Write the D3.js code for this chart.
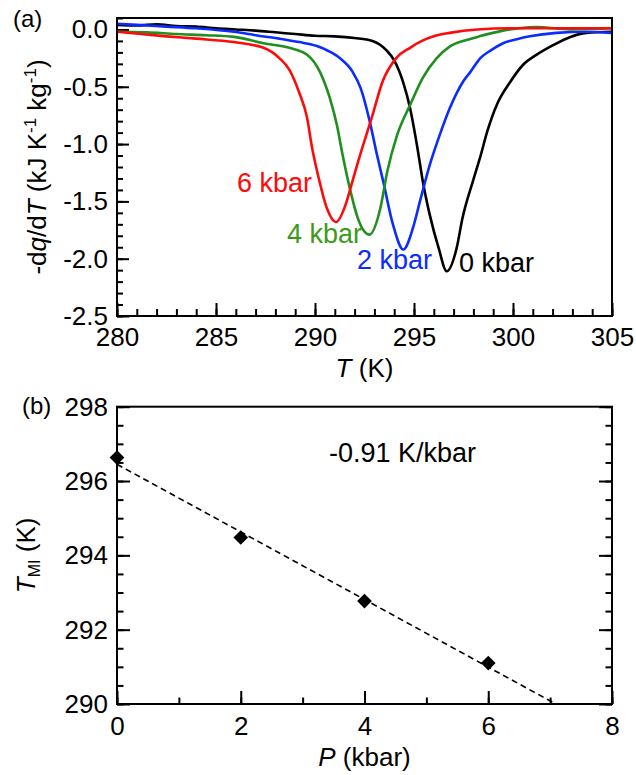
<!DOCTYPE html>
<html>
<head>
<meta charset="utf-8">
<script src="https://cdn.jsdelivr.net/npm/d3@7"></script>
<style>
  body { margin: 0; background: #fff; }
  text { font-family: "Liberation Sans", Arial, sans-serif; fill: #000; }
</style>
</head>
<body>
<svg id="chart" width="636" height="775"></svg>
<script>
// ---- panel (a): -dq/dT curves ----
const T0 = [280, 281, 282, 283, 284, 285, 286, 287, 288, 289, 290, 291, 292, 292.9, 293.6, 294.0, 294.45, 294.8, 295.15, 295.45, 295.8, 296.25, 296.65, 297.15, 297.45, 298.0, 298.35, 298.7, 299.2, 299.85, 300.5, 301.2, 302.05, 302.9, 303.7, 305];
const q0 = [0.04, 0.035, 0.045, 0.03, 0.025, 0.01, 0.0, -0.01, -0.025, -0.04, -0.055, -0.06, -0.075, -0.10, -0.18, -0.27, -0.46, -0.685, -1.01, -1.33, -1.62, -1.91, -2.11, -1.91, -1.645, -1.31, -1.11, -0.89, -0.65, -0.46, -0.31, -0.22, -0.135, -0.065, -0.03, -0.02];

const T2 = [280, 281, 282.5, 284, 285.9, 287, 288.2, 289.2, 290.1, 290.7, 291.25, 291.9, 292.3, 292.8, 293.1, 293.45, 293.95, 294.46, 294.95, 295.3, 295.8, 296.3, 296.8, 297.5, 297.85, 298.35, 298.9, 299.5, 300.2, 300.85, 302.2, 303.7, 305];
const q2 = [0.05, 0.04, 0.025, 0.01, -0.02, -0.05, -0.08, -0.11, -0.145, -0.19, -0.25, -0.37, -0.51, -0.83, -1.07, -1.33, -1.71, -1.92, -1.73, -1.50, -1.18, -0.92, -0.69, -0.45, -0.37, -0.25, -0.18, -0.12, -0.085, -0.06, -0.03, -0.02, -0.03];

const T4 = [280, 281.5, 283, 284.5, 285.9, 287.4, 288.7, 289.6, 290.25, 290.75, 291.1, 291.4, 291.75, 292.15, 292.4, 292.75, 293.3, 293.65, 294.15, 294.8, 295.45, 296.15, 296.8, 297.7, 298.3, 299.5, 300.3, 301.2, 302.9, 305];
const q4 = [-0.02, -0.025, -0.04, -0.05, -0.065, -0.12, -0.16, -0.22, -0.37, -0.60, -0.83, -1.10, -1.38, -1.64, -1.74, -1.79, -1.56, -1.24, -0.92, -0.66, -0.42, -0.25, -0.15, -0.09, -0.06, -0.01, 0.01, 0.02, 0.0, 0.01];

const T6 = [280, 281.2, 282.5, 284, 285.9, 287.4, 288.2, 288.7, 289.2, 289.6, 289.85, 290.15, 290.6, 291.05, 291.6, 291.8, 292.2, 292.9, 293.4, 294.1, 294.8, 295.4, 296.0, 296.8, 298.2, 300, 302, 305];
const q6 = [-0.02, -0.04, -0.06, -0.08, -0.11, -0.16, -0.25, -0.35, -0.55, -0.77, -1.03, -1.27, -1.56, -1.68, -1.50, -1.38, -1.14, -0.75, -0.46, -0.25, -0.16, -0.10, -0.06, -0.03, 0.0, 0.01, 0.01, 0.01];

const curveNames = ["0 kbar", "2 kbar", "4 kbar", "6 kbar"];
const curveColors = ["#000000", "#0a2cff", "#1f8f1f", "#ff0a0a"];
const labelColors = ["#000000", "#0a2cff", "#3c9a1a", "#ff0a0a"];

// ---- panel (b): transition temperature vs pressure ----
const pressure = [0, 2, 4, 6];
const tMI = [296.63, 294.48, 292.77, 291.1];
const fitP = [0, 7.07];
const fitT = [296.45, 290.02];
const slopeText = "-0.91 K/kbar";

const xTicksA = [280, 285, 290, 295, 300, 305];
const yTicksA = [0.0, -0.5, -1.0, -1.5, -2.0, -2.5];
const xTicksB = [0, 2, 4, 6, 8];
const yTicksB = [290, 292, 294, 296, 298];

const svg = d3.select("#chart");
const left = 117, right = 612;

// panel (a) scales
const xa = d3.scaleLinear().domain([280, 305]).range([left, right]);
const ya = d3.scaleLinear().domain([-2.5, 0.1]).range([316, 18]);
// panel (b) scales
const xb = d3.scaleLinear().domain([0, 8]).range([left, right]);
const yb = d3.scaleLinear().domain([290, 298]).range([704, 406.7]);

function styleAxis(g) {
  g.select(".domain").remove();
  g.selectAll("line").attr("stroke", "#000").attr("stroke-width", 2);
  g.selectAll("text").attr("font-size", 26).attr("fill", "#000");
}

function addAxis(gen, tx, ty) {
  svg.append("g").attr("transform", `translate(${tx},${ty})`).call(gen).call(styleAxis);
}

// ---------- panel (a) ----------
// minor ticks
addAxis(d3.axisBottom(xa).tickValues(d3.range(280, 305.01, 1)).tickSize(-7).tickFormat(""), 0, 316);
addAxis(d3.axisLeft(ya).tickValues(d3.range(-2.5, 0.101, 0.1)).tickSize(-6).tickFormat(""), left, 0);
// major ticks
addAxis(d3.axisBottom(xa).tickValues(xTicksA).tickSize(-13).tickPadding(12).tickFormat(d => d), 0, 316);
addAxis(d3.axisLeft(ya).tickValues(yTicksA).tickSize(-12).tickPadding(9).tickFormat(d => d.toFixed(1)), left, 0);

const line = d3.line().x(d => xa(d[0])).y(d => ya(d[1])).curve(d3.curveMonotoneX);
const curves = [[T0, q0], [T2, q2], [T4, q4], [T6, q6]];
svg.append("clipPath").attr("id", "clipA").append("rect")
  .attr("x", left).attr("y", 18).attr("width", right - left).attr("height", 298);
// black, blue, green, red: red ends up on top
curves.forEach((c, i) => {
  svg.append("path")
    .datum(c[0].map((t, j) => [t, c[1][j]]))
    .attr("clip-path", "url(#clipA)")
    .attr("fill", "none")
    .attr("stroke", curveColors[i])
    .attr("stroke-width", 2.6)
    .attr("stroke-linejoin", "round")
    .attr("d", line);
});

svg.append("rect").attr("x", left).attr("y", 18).attr("width", right - left).attr("height", 298)
  .attr("fill", "none").attr("stroke", "#000").attr("stroke-width", 2);

// curve labels
const labelPos = [[459, 272], [357, 269], [287, 243], [237, 192]];
curveNames.forEach((n, i) => {
  svg.append("text").attr("x", labelPos[i][0]).attr("y", labelPos[i][1])
    .attr("font-size", 27).style("fill", labelColors[i]).text(n);
});

svg.append("text").attr("x", 13).attr("y", 27).attr("font-size", 24).text("(a)");

// axis titles (a)
const xtA = svg.append("text").attr("x", (left + right) / 2).attr("y", 377)
  .attr("font-size", 26).attr("text-anchor", "middle");
xtA.append("tspan").attr("font-style", "italic").text("T");
xtA.append("tspan").text(" (K)");

const ytA = svg.append("text").attr("transform", `translate(46,${(18 + 316) / 2}) rotate(-90)`)
  .attr("font-size", 26).attr("text-anchor", "middle");
ytA.append("tspan").text("-d");
ytA.append("tspan").attr("font-style", "italic").text("q");
ytA.append("tspan").text("/d");
ytA.append("tspan").attr("font-style", "italic").text("T");
ytA.append("tspan").text(" (kJ K");
ytA.append("tspan").attr("font-size", 17).attr("dy", -10).text("-1");
ytA.append("tspan").attr("dy", 10).text(" kg");
ytA.append("tspan").attr("font-size", 17).attr("dy", -10).text("-1");
ytA.append("tspan").attr("dy", 10).text(")");

// ---------- panel (b) ----------
addAxis(d3.axisBottom(xb).tickValues(d3.range(0, 8.01, 1)).tickSize(-6.5).tickFormat(""), 0, 704);
addAxis(d3.axisLeft(yb).tickValues(d3.range(290, 298.01, 0.5)).tickSize(-6.5).tickFormat(""), left, 0);
addAxis(d3.axisRight(yb).tickValues(d3.range(290, 298.01, 0.5)).tickSize(-6.5).tickFormat(""), right, 0);
addAxis(d3.axisBottom(xb).tickValues(xTicksB).tickSize(-13).tickPadding(13).tickFormat(d => d), 0, 704);
addAxis(d3.axisLeft(yb).tickValues(yTicksB).tickSize(-13).tickPadding(9).tickFormat(d => d), left, 0);
addAxis(d3.axisRight(yb).tickValues(yTicksB).tickSize(-13).tickFormat(""), right, 0);

svg.append("path")
  .datum(fitP.map((p, i) => [p, fitT[i]]))
  .attr("fill", "none").attr("stroke", "#000").attr("stroke-width", 1.6)
  .attr("stroke-dasharray", "6,4")
  .attr("d", d3.line().x(d => xb(d[0])).y(d => yb(d[1])));

svg.selectAll(".pt").data(pressure.map((p, i) => [p, tMI[i]])).join("path")
  .attr("class", "pt")
  .attr("transform", d => `translate(${xb(d[0])},${yb(d[1])}) rotate(45)`)
  .attr("d", d3.symbol(d3.symbolSquare, 108)())
  .attr("fill", "#000");

svg.append("rect").attr("x", left).attr("y", 406.7).attr("width", right - left).attr("height", 704 - 406.7)
  .attr("fill", "none").attr("stroke", "#000").attr("stroke-width", 2);

svg.append("text").attr("x", 329).attr("y", 462).attr("font-size", 27).text(slopeText);
svg.append("text").attr("x", 22).attr("y", 414).attr("font-size", 24).text("(b)");

const xtB = svg.append("text").attr("x", (left + right) / 2).attr("y", 766)
  .attr("font-size", 26).attr("text-anchor", "middle");
xtB.append("tspan").attr("font-style", "italic").text("P");
xtB.append("tspan").text(" (kbar)");

const ytB = svg.append("text").attr("transform", `translate(35,${(406.7 + 704) / 2}) rotate(-90)`)
  .attr("font-size", 26).attr("text-anchor", "middle");
ytB.append("tspan").attr("font-style", "italic").text("T");
ytB.append("tspan").attr("font-size", 16).attr("dy", 5).text("MI");
ytB.append("tspan").attr("dy", -5).text(" (K)");
</script>
</body>
</html>
